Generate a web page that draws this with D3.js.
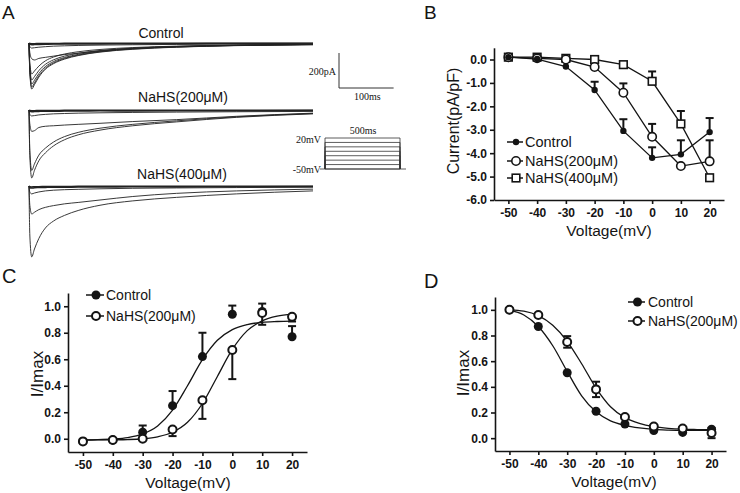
<!DOCTYPE html>
<html>
<head>
<meta charset="utf-8">
<script src="https://cdn.jsdelivr.net/npm/d3@7"></script>
<style>
body { margin: 0; background: #fff; }
</style>
</head>
<body>
<svg id="fig" width="740" height="493"></svg>
<script>
// ---- data ----
var volts = [-50, -40, -30, -20, -10, 0, 10, 20];
var fitVolts = [-50, -45, -40, -35, -30, -25, -20, -15, -10, -5, 0, 5, 10, 15, 20];
var bTicks = [0, -1, -2, -3, -4, -5, -6];
var relTicks = [0, 0.2, 0.4, 0.6, 0.8, 1.0];

// B: current density (pA/pF), error bars point upward
var bControl = [0.1, 0.02, -0.3, -1.3, -3.05, -4.2, -4.05, -3.1];
var bControlErr = [0, 0, 0, 0.35, 0.5, 0.45, 0.6, 0.6];
var b200 = [0.1, 0.05, 0.0, -0.32, -1.42, -3.3, -4.55, -4.35];
var b200Err = [0, 0, 0, 0, 0.4, 0.55, 0, 0.9];
var b400 = [0.1, 0.1, 0.05, 0.0, -0.22, -0.93, -2.75, -5.05];
var b400Err = [0, 0, 0, 0, 0, 0.42, 0.55, 0];

// C: activation
var cControl = [-0.02, -0.01, 0.05, 0.25, 0.62, 0.94, 0.96, 0.77];
var cControlErr = [0, 0, 0.05, 0.11, 0.18, 0.065, 0.06, 0.08];
var c200 = [-0.02, -0.01, 0.0, 0.07, 0.29, 0.67, 0.95, 0.92];
var c200Err = [0, 0, 0, 0.05, 0.14, 0.22, 0.09, 0.035];
var cFitControl = [-0.009, -0.007, -0.002, 0.009, 0.037, 0.097, 0.216, 0.40, 0.597, 0.743, 0.824, 0.862, 0.879, 0.885, 0.888];
var cFit200 = [-0.01, -0.009, -0.008, -0.006, 0.0, 0.015, 0.049, 0.124, 0.266, 0.47, 0.674, 0.816, 0.89, 0.925, 0.94];

// D: inactivation
var dControl = [1.0, 0.87, 0.51, 0.21, 0.11, 0.06, 0.045, 0.07];
var d200 = [1.0, 0.96, 0.75, 0.38, 0.165, 0.09, 0.075, 0.04];
var d200Err = [0, 0.01, 0.045, 0.06, 0.01, 0.01, 0.01, 0.04];
var dFitControl = [0.995, 0.96, 0.87, 0.72, 0.52, 0.33, 0.205, 0.135, 0.1, 0.08, 0.068, 0.063, 0.061, 0.06, 0.06];
var dFit200 = [1.0, 0.99, 0.955, 0.88, 0.755, 0.58, 0.39, 0.245, 0.16, 0.115, 0.09, 0.077, 0.07, 0.067, 0.065];

// A: current traces (pA) sampled at these times (ms)
var traceTimes = [0, 1.5, 5, 10, 18, 30, 45, 65, 90, 130, 190, 270, 380, 520];
var controlTraces = [
  [0, -170, -263, -238, -195, -150, -118, -92, -72, -52, -36, -24, -15, -10],
  [0, -160, -251, -228, -187, -144, -113, -88, -69, -50, -34, -23, -14, -9],
  [0, -150, -234, -213, -175, -135, -106, -83, -65, -47, -32, -22, -14, -9],
  [0, -135, -211, -192, -158, -122, -96, -75, -59, -43, -30, -20, -13, -8],
  [0, -115, -177, -160, -132, -102, -80, -63, -50, -37, -26, -18, -12, -8],
  [0, -55, -90, -97, -88, -82, -75, -66, -58, -45, -30, -20, -13, -8],
  [0, -20, -29, -27, -24, -21, -18, -16, -14, -12, -10, -8, -6, -5],
  [0, -8, -10, -9, -8, -7, -6, -6, -5, -5, -4, -4, -3, -3],
  [0, -3, -4, -4, -3, -3, -3, -2, -2, -2, -2, -2, -1, -1]
];
var nahs200Traces = [
  [0, -260, -388, -345, -290, -245, -205, -170, -142, -115, -90, -68, -42, -22],
  [0, -230, -345, -308, -258, -218, -183, -152, -128, -104, -82, -62, -39, -20],
  [0, -80, -122, -118, -100, -93, -90, -86, -82, -76, -66, -55, -36, -18],
  [0, -25, -34, -32, -28, -25, -22, -20, -18, -16, -14, -12, -10, -8],
  [0, -8, -10, -9, -8, -7, -7, -6, -6, -5, -5, -4, -4, -3],
  [0, -3, -4, -4, -3, -3, -3, -2, -2, -2, -2, -2, -1, -1]
];
var nahs400Traces = [
  [0, -280, -405, -360, -300, -240, -200, -168, -140, -110, -85, -65, -45, -28],
  [0, -110, -160, -150, -135, -122, -112, -102, -94, -80, -60, -42, -28, -18],
  [0, -35, -45, -40, -34, -28, -24, -21, -19, -16, -13, -11, -9, -7],
  [0, -10, -12, -10, -9, -8, -7, -7, -6, -6, -5, -5, -4, -3],
  [0, -4, -5, -4, -4, -3, -3, -3, -2, -2, -2, -2, -2, -1]
];
var stepLevels = [-50, -40, -30, -20, -10, 0, 10, 20];
var stepDuration = 500;

// ---- drawing ----
var svg = d3.select("#fig");
var ink = "#141414";
var sans = "Arial, 'Liberation Sans', Helvetica, sans-serif";
var serif = "'Times New Roman', 'Liberation Serif', serif";

function txt(x, y, s, size, opts) {
  opts = opts || {};
  return svg.append("text").attr("x", x).attr("y", y).text(s)
    .attr("font-family", opts.family || sans)
    .attr("font-size", size)
    .attr("font-weight", opts.weight || "normal")
    .attr("text-anchor", opts.anchor || "start")
    .attr("fill", ink);
}

var fmtInt = function(d) { return String(d); };
var fmt1 = function(d) { return d3.format(".1f")(d).replace("\u2212", "-"); };

function drawAxes(x, y, yTicks) {
  var gx = svg.append("g")
    .attr("transform", "translate(0," + y.range()[0] + ")")
    .call(d3.axisBottom(x).tickValues(volts).tickSize(4).tickSizeOuter(0).tickPadding(4).tickFormat(fmtInt));
  var gy = svg.append("g")
    .attr("transform", "translate(" + x.range()[0] + ",0)")
    .call(d3.axisLeft(y).tickValues(yTicks).tickSize(4).tickSizeOuter(0).tickPadding(3).tickFormat(fmt1));
  [gx, gy].forEach(function(g) {
    g.attr("font-family", sans).attr("font-size", 12).attr("font-weight", "bold");
    g.select(".domain").attr("stroke", ink).attr("stroke-width", 1.6);
    g.selectAll(".tick line").attr("stroke", ink).attr("stroke-width", 1.6);
    g.selectAll(".tick text").attr("fill", ink);
  });
}

function marker(g, type, cx, cy) {
  if (type === "dotS") {
    g.append("circle").attr("cx", cx).attr("cy", cy).attr("r", 3.2).attr("fill", ink);
  } else if (type === "ringS") {
    g.append("circle").attr("cx", cx).attr("cy", cy).attr("r", 4.2)
      .attr("fill", "#fff").attr("stroke", ink).attr("stroke-width", 1.6);
  } else if (type === "square") {
    g.append("rect").attr("x", cx - 3.8).attr("y", cy - 3.8).attr("width", 7.6).attr("height", 7.6)
      .attr("fill", "#fff").attr("stroke", ink).attr("stroke-width", 1.6);
  } else if (type === "dot") {
    g.append("circle").attr("cx", cx).attr("cy", cy).attr("r", 4.5).attr("fill", ink);
  } else if (type === "ring") {
    g.append("circle").attr("cx", cx).attr("cy", cy).attr("r", 4)
      .attr("fill", "#fff").attr("stroke", ink).attr("stroke-width", 2);
  }
}

function errorBars(x, y, vals, errs, dir) {
  var g = svg.append("g").attr("stroke", ink).attr("stroke-width", 2).attr("fill", "none");
  volts.forEach(function(v, i) {
    var e = errs[i];
    if (!e) return;
    var lo = dir > 0 ? vals[i] : vals[i] - e;
    var hi = dir < 0 ? vals[i] : vals[i] + e;
    var px = x(v);
    g.append("line").attr("x1", px).attr("x2", px).attr("y1", y(lo)).attr("y2", y(hi));
    if (dir >= 0) g.append("line").attr("x1", px - 4).attr("x2", px + 4).attr("y1", y(hi)).attr("y2", y(hi));
    if (dir <= 0) g.append("line").attr("x1", px - 4).attr("x2", px + 4).attr("y1", y(lo)).attr("y2", y(lo));
  });
}

function series(x, y, vals, type, connect) {
  var g = svg.append("g");
  if (connect) {
    g.append("path")
      .attr("d", d3.line().x(function(d, i) { return x(volts[i]); }).y(function(d) { return y(d); })(vals))
      .attr("fill", "none").attr("stroke", ink).attr("stroke-width", 1.3);
  }
  vals.forEach(function(d, i) { marker(g, type, x(volts[i]), y(d)); });
}

function fitCurve(x, y, vals) {
  svg.append("path")
    .attr("d", d3.line().x(function(d, i) { return x(fitVolts[i]); }).y(function(d) { return y(d); })
      .curve(d3.curveMonotoneX)(vals))
    .attr("fill", "none").attr("stroke", ink).attr("stroke-width", 1.3);
}

function legend(items, x0, x1, tx, size) {
  items.forEach(function(it) {
    var g = svg.append("g");
    g.append("line").attr("x1", x0).attr("x2", x1).attr("y1", it.y).attr("y2", it.y)
      .attr("stroke", ink).attr("stroke-width", 1.5);
    marker(g, it.type, (x0 + x1) / 2 + 1, it.y);
    txt(tx, it.y, it.label, size).attr("dy", "0.36em");
  });
}

// ---- Panel A ----
txt(2, 19, "A", 19);
var xT = d3.scaleLinear().domain([0, 520]).range([29, 313]);
var pxPerPA = 35 / 200;
var groups = [
  { label: "Control", traces: controlTraces, base: 43, lx: 161, ly: 38 },
  { label: "NaHS(200\u03bcM)", traces: nahs200Traces, base: 110, lx: 183, ly: 102 },
  { label: "NaHS(400\u03bcM)", traces: nahs400Traces, base: 186, lx: 182, ly: 179 }
];
groups.forEach(function(gr) {
  var yT = d3.scaleLinear().domain([-400, 0]).range([gr.base + 400 * pxPerPA, gr.base]);
  var line = d3.line().x(function(d, i) { return xT(traceTimes[i]); }).y(function(d) { return yT(d); })
    .curve(d3.curveMonotoneX);
  var g = svg.append("g").attr("fill", "none").attr("stroke", "#222");
  g.selectAll("path").data(gr.traces).enter().append("path")
    .attr("d", line)
    .attr("stroke-width", function(d, i) { return i >= gr.traces.length - 2 ? 1.5 : 0.9; });
  txt(gr.lx, gr.ly, gr.label, 14, { anchor: "middle" });
});

// scale bar
var sbY = d3.scaleLinear().domain([0, 200]).range([88, 88 - 200 * pxPerPA]);
var sbX0 = 339;
var sbX1 = sbX0 + (xT(100) - xT(0));
svg.append("path")
  .attr("d", "M" + sbX0 + "," + sbY(200) + "V" + sbY(0) + "H" + sbX1)
  .attr("fill", "none").attr("stroke", "#333").attr("stroke-width", 1);
txt(336, 75, "200pA", 10, { family: serif, anchor: "end" });
txt((sbX0 + sbX1) / 2 + 1, 100, "100ms", 10, { family: serif, anchor: "middle" });

// voltage protocol
var xP = d3.scaleLinear().domain([0, stepDuration]).range([325, 400]);
var yP = d3.scaleLinear().domain([-50, 20]).range([169, 138]);
var gp = svg.append("g").attr("fill", "none").attr("stroke", "#333").attr("stroke-width", 0.8);
gp.append("line").attr("x1", 320).attr("x2", 406).attr("y1", yP(-50)).attr("y2", yP(-50));
stepLevels.forEach(function(v) {
  gp.append("path").attr("d", "M" + xP(0) + "," + yP(-50) + "V" + yP(v) + "H" + xP(stepDuration) + "V" + yP(-50));
});
txt(363, 134, "500ms", 10, { family: serif, anchor: "middle" });
txt(321, 143, "20mV", 10, { family: serif, anchor: "end" });
txt(321, 173, "-50mV", 10, { family: serif, anchor: "end" });

// ---- Panel B ----
txt(424, 19, "B", 19);
var xB = d3.scaleLinear().domain([-55, 25]).range([494, 724]);
var yB = d3.scaleLinear().domain([-6, 0.5]).range([200, 47.8]);
drawAxes(xB, yB, bTicks);
errorBars(xB, yB, bControl, bControlErr, 1);
errorBars(xB, yB, b200, b200Err, 1);
errorBars(xB, yB, b400, b400Err, 1);
series(xB, yB, b400, "square", true);
series(xB, yB, b200, "ringS", true);
series(xB, yB, bControl, "dotS", true);
legend([
  { y: 142, type: "dotS", label: "Control" },
  { y: 161, type: "ringS", label: "NaHS(200\u03bcM)" },
  { y: 178, type: "square", label: "NaHS(400\u03bcM)" }
], 507, 523, 525, 14.5);
txt(609, 236, "Voltage(mV)", 15.5, { anchor: "middle" });
txt(0, 0, "Current(pA/pF)", 16, { anchor: "middle" })
  .attr("transform", "translate(459,121) rotate(-90)");

// ---- Panel C ----
txt(2, 283, "C", 20);
var xC = d3.scaleLinear().domain([-55, 25]).range([68, 307]);
var yC = d3.scaleLinear().domain([-0.1, 1.1]).range([452, 293]);
drawAxes(xC, yC, relTicks);
fitCurve(xC, yC, cFitControl);
fitCurve(xC, yC, cFit200);
errorBars(xC, yC, cControl, cControlErr, 1);
errorBars(xC, yC, c200, c200Err, -1);
series(xC, yC, cControl, "dot", false);
series(xC, yC, c200, "ring", false);
legend([
  { y: 295, type: "dot", label: "Control" },
  { y: 316, type: "ring", label: "NaHS(200\u03bcM)" }
], 86, 104, 106, 14);
txt(188, 488, "Voltage(mV)", 15.5, { anchor: "middle" });
txt(0, 0, "I/Imax", 17, { anchor: "middle" })
  .attr("transform", "translate(43,374) rotate(-90)");

// ---- Panel D ----
txt(424, 288, "D", 20);
var xD = d3.scaleLinear().domain([-55, 25]).range([495, 726]);
var yD = d3.scaleLinear().domain([-0.1, 1.1]).range([451, 297]);
drawAxes(xD, yD, relTicks);
fitCurve(xD, yD, dFitControl);
fitCurve(xD, yD, dFit200);
errorBars(xD, yD, d200, d200Err, 0);
series(xD, yD, dControl, "dot", false);
series(xD, yD, d200, "ring", false);
legend([
  { y: 302, type: "dot", label: "Control" },
  { y: 321, type: "ring", label: "NaHS(200\u03bcM)" }
], 628, 645, 648, 14);
txt(614, 487, "Voltage(mV)", 15.5, { anchor: "middle" });
txt(0, 0, "I/Imax", 17, { anchor: "middle" })
  .attr("transform", "translate(469,373) rotate(-90)");
</script>
</body>
</html>
